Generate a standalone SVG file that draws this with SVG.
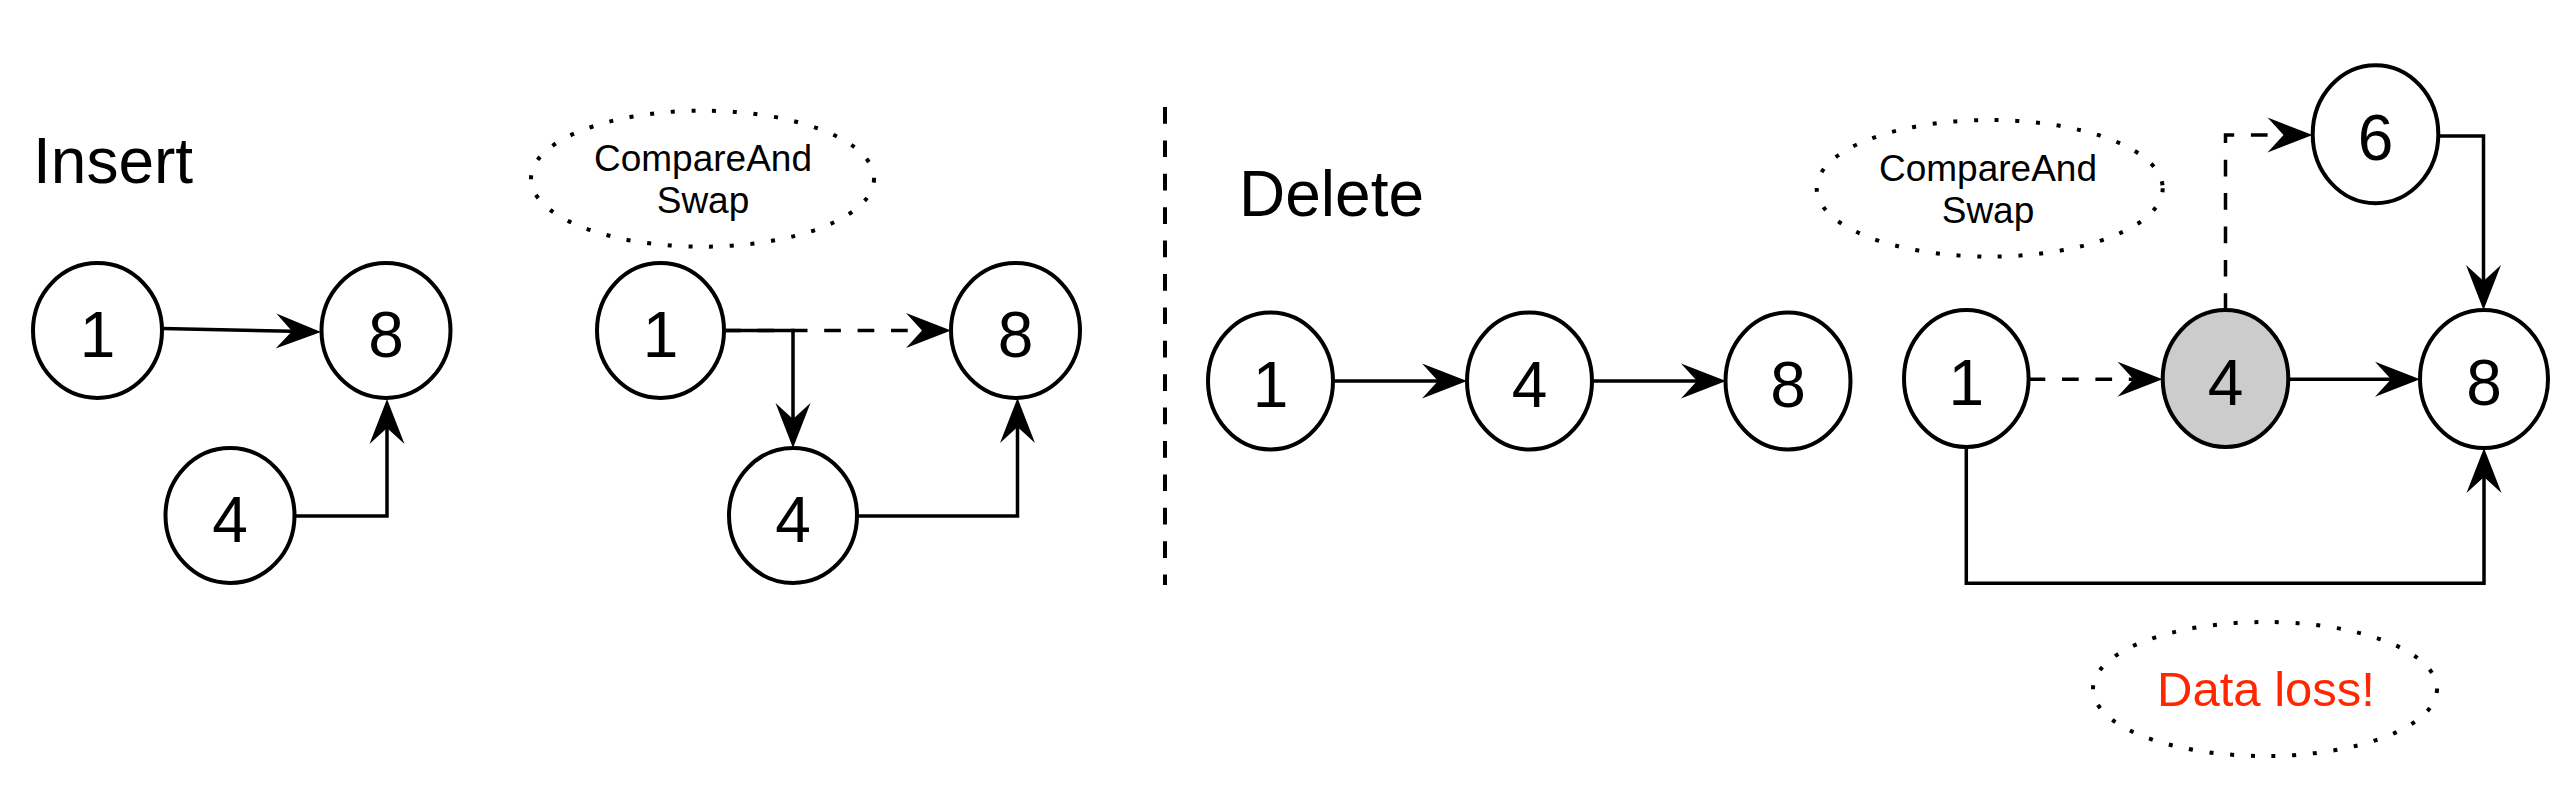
<svg xmlns="http://www.w3.org/2000/svg" width="2559" height="788" viewBox="0 0 2559 788">
<defs>
<style>
.node{fill:#fff;stroke:#000;stroke-width:4}
.gray{fill:#ccc}
.note{fill:none;stroke:#000;stroke-width:4;stroke-dasharray:4 16.7}
.lbl{font-family:"Liberation Sans",Arial,Helvetica,sans-serif;font-size:64px;fill:#000;text-anchor:middle}
.title{font-family:"Liberation Sans",Arial,Helvetica,sans-serif;font-size:64px;fill:#000}
.cas{font-family:"Liberation Sans",Arial,Helvetica,sans-serif;font-size:37px;fill:#000;text-anchor:middle}
.loss{font-family:"Liberation Sans",Arial,Helvetica,sans-serif;font-size:49px;fill:#FF2600;text-anchor:middle}
.edge{fill:none;stroke:#000;stroke-width:3.5;marker-end:url(#arr)}
.dash{stroke-dasharray:16.7 16.7}
</style>
<marker id="arr" markerUnits="userSpaceOnUse" markerWidth="46" markerHeight="36" viewBox="0 -18 46 36" refX="16" refY="0" orient="auto" overflow="visible">
<path d="M45,0 L0,-17.5 L16,0 L0,17.5 Z" fill="#000"/>
</marker>
</defs>
<rect width="2559" height="788" fill="#fff"/>

<text class="title" x="33" y="183">Insert</text>
<text class="title" x="1239" y="216">Delete</text>
<line id="separator" x1="1165" y1="107" x2="1165" y2="585" stroke="#000" stroke-width="4" stroke-dasharray="16.7 16.7"/>

<g id="connectors">
<path class="edge" d="M162,328.5 L292,331.3"/>
<path class="edge" d="M294,516 L387,516 L387,428"/>
<path class="edge" d="M724,330.5 L793,330.5 L793,419"/>
<path class="edge dash" d="M724,330.5 L922,330.5"/>
<path class="edge" d="M857,516 L1017.5,516 L1017.5,427"/>
<path class="edge" d="M1333,381 L1438,381"/>
<path class="edge" d="M1592,381 L1697,381"/>
<path class="edge dash" d="M2028.6,379.3 L2133.5,379.3"/>
<path class="edge" d="M2288.3,379.3 L2391,379.3"/>
<path class="edge dash" d="M2225.5,310 L2225.5,135 L2283.5,135"/>
<path class="edge" d="M2438.3,136 L2483.5,136 L2483.5,281"/>
<path class="edge" d="M1966.3,447 L1966.3,583.3 L2484,583.3 L2484,477"/>
</g>

<g id="ins-n1"><ellipse class="node" cx="97.5" cy="330.5" rx="64.5" ry="67.5"/><text class="lbl" x="97.5" y="356.5">1</text></g>
<g id="ins-n8"><ellipse class="node" cx="386" cy="330.5" rx="64.5" ry="67.5"/><text class="lbl" x="386" y="356.5">8</text></g>
<g id="ins-n4"><ellipse class="node" cx="230" cy="515.5" rx="64.5" ry="67.5"/><text class="lbl" x="230" y="541.5">4</text></g>

<g id="cas1"><ellipse class="note" cx="702.5" cy="178.7" rx="171.5" ry="68"/><text class="cas" x="703" y="170.7">CompareAnd</text><text class="cas" x="703" y="213.3">Swap</text></g>
<g id="cas-n1"><ellipse class="node" cx="660.5" cy="330.5" rx="63.5" ry="67.5"/><text class="lbl" x="660.5" y="356.5">1</text></g>
<g id="cas-n8"><ellipse class="node" cx="1015.5" cy="330.5" rx="64.5" ry="67.5"/><text class="lbl" x="1015.5" y="356.5">8</text></g>
<g id="cas-n4"><ellipse class="node" cx="793" cy="515.5" rx="64" ry="67.5"/><text class="lbl" x="793" y="541.5">4</text></g>

<g id="del-n1"><ellipse class="node" cx="1270.5" cy="381" rx="62.5" ry="68.5"/><text class="lbl" x="1270.5" y="407">1</text></g>
<g id="del-n4"><ellipse class="node" cx="1529.5" cy="381" rx="62.5" ry="68.5"/><text class="lbl" x="1529.5" y="407">4</text></g>
<g id="del-n8"><ellipse class="node" cx="1788" cy="381" rx="62.5" ry="68.5"/><text class="lbl" x="1788" y="407">8</text></g>

<g id="cas2"><ellipse class="note" cx="1989.7" cy="188.3" rx="173" ry="68.3"/><text class="cas" x="1988" y="180.7">CompareAnd</text><text class="cas" x="1988" y="223.3">Swap</text></g>
<g id="dcas-n1"><ellipse class="node" cx="1966.3" cy="378.5" rx="62.3" ry="68.5"/><text class="lbl" x="1966.3" y="404.5">1</text></g>
<g id="dcas-n4"><ellipse class="node gray" cx="2225.5" cy="378.5" rx="62.8" ry="68.5"/><text class="lbl" x="2225.5" y="404.5">4</text></g>
<g id="dcas-n6"><ellipse class="node" cx="2375.5" cy="134.2" rx="62.8" ry="69"/><text class="lbl" x="2375.5" y="160.2">6</text></g>
<g id="dcas-n8"><ellipse class="node" cx="2484" cy="379" rx="64" ry="69"/><text class="lbl" x="2484" y="405">8</text></g>

<g id="dataloss"><ellipse class="note" cx="2265" cy="689" rx="172" ry="67"/><text class="loss" x="2266" y="706">Data loss!</text></g>
</svg>
